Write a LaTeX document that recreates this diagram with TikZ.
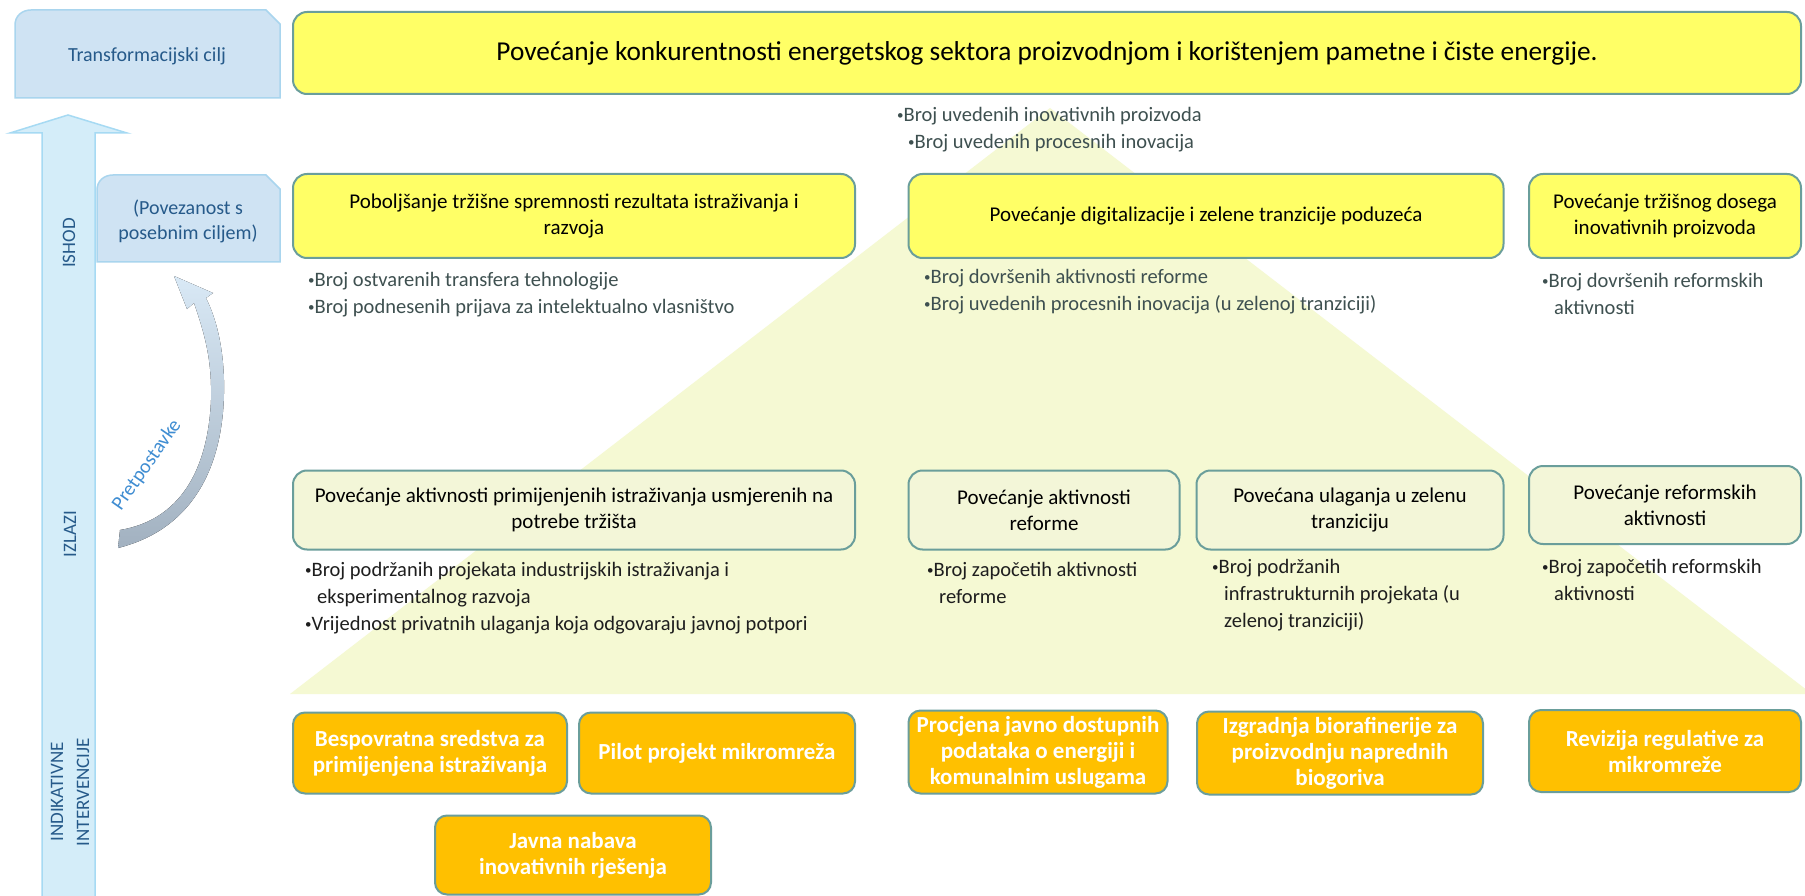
\documentclass[tikz,border=0pt]{standalone}
\usepackage{fontspec}
\setmainfont{Carlito}
\definecolor{boxline}{HTML}{6A9E9B}
\definecolor{goalyellow}{HTML}{FFFF66}
\definecolor{outpale}{HTML}{F3F6D8}
\definecolor{pyramid}{HTML}{F5F9D3}
\definecolor{actorange}{HTML}{FFC000}
\definecolor{lvlfill}{HTML}{CFE3F3}
\definecolor{lvlline}{HTML}{A9D5EE}
\definecolor{arrfill}{HTML}{D4EDF9}
\definecolor{arrline}{HTML}{A6DAF3}
\definecolor{lvltext}{HTML}{265A8A}
\definecolor{inddark}{HTML}{3E5050}
\definecolor{indblack}{HTML}{1E1E1E}
\definecolor{assume}{HTML}{3F8DD2}
\definecolor{assumetop}{HTML}{D9E9F6}
\definecolor{assumebot}{HTML}{A2B1C0}
\newcommand\bul{\raisebox{.2ex}{\fontsize{13}{13}\selectfont\textbullet}}
\begin{document}
\begin{tikzpicture}[x=1pt, y=-1pt,
    lvlbox/.style={draw=lvlline, line width=1.5pt, fill=lvlfill},
    lvltxt/.style={text=lvltext, font=\fontsize{20}{25}\selectfont, align=center},
    stage/.style={rotate=90, text=lvltext, font=\fontsize{19}{26}\selectfont, align=center},
    goal/.style={draw=boxline, line width=2pt, fill=goalyellow, rounded corners=14pt, align=center, font=\fontsize{21}{26}\selectfont},
    output/.style={goal, fill=outpale},
    action/.style={draw=boxline, line width=2pt, fill=actorange, rounded corners=12pt, align=center, text=white, font=\bfseries\fontsize{23}{26}\selectfont},
    ind/.style={anchor=north west, inner sep=0pt, align=left, text=inddark, font=\fontsize{20.5}{27}\selectfont}]
\fill[white] (0,0) rectangle (1805,896);
\useasboundingbox (0,0) rectangle (1805,896);
\fill[pyramid] (1050,108) -- (1812,694) -- (290,694) -- cycle;

\draw[lvlbox] (15,98) -- (15,25) .. controls (15,16) and (22,10) .. (31,10) -- (266,10) -- (280,24) -- (280,98) -- cycle;
\draw[lvlbox] (97,262) -- (97,190) .. controls (97,181) and (104,175) .. (113,175) -- (266,175) -- (280,189) -- (280,262) -- cycle;
\draw[draw=arrline, line width=1.5pt, fill=arrfill] (42,900) -- (42,133) -- (10,133) -- (68,115) -- (127,133) -- (95,133) -- (95,900);
\fill[top color=assumetop, middle color=assumetop!85!assumebot, bottom color=assumebot]
  (118,548) .. controls (190,530) and (226,470) .. (224,380) .. controls (223,345) and (216,318) .. (206,298)
  -- (213,293) -- (174,276) -- (187,309) -- (194,303)
  .. controls (205,335) and (212,360) .. (211,400) .. controls (208,470) and (180,520) .. (120,530) -- cycle;

\node[lvltxt] (cilj) at (147,56) {Transformacijski cilj};
\node[lvltxt] (veza) at (188,221) {(Povezanost s\\posebnim ciljem)};
\node[stage] (ishod) at (69,243) {ISHOD};
\node[stage] (izlazi) at (70,534) {IZLAZI};
\node[stage] (intervencije) at (70,792) {INDIKATIVNE\\INTERVENCIJE};
\node[rotate=55, text=assume, font=\fontsize{20}{20}\selectfont] (pret) at (147,465) {Pretpostavke};

\node[goal, minimum width=1508pt, minimum height=82pt, font=\fontsize{27.3}{32}\selectfont] (cilj1) at (1047,53)
  {Povećanje konkurentnosti energetskog sektora proizvodnjom i korištenjem pametne i čiste energije.};

\node[goal, minimum width=562pt, minimum height=84pt] (ish1) at (574,216) {Poboljšanje tržišne spremnosti rezultata istraživanja i\\razvoja};
\node[goal, minimum width=595pt, minimum height=84pt] (ish2) at (1206,216) {Povećanje digitalizacije i zelene tranzicije poduzeća};
\node[goal, minimum width=272pt, minimum height=84pt] (ish3) at (1665,216) {Povećanje tržišnog dosega\\inovativnih proizvoda};

\node[output, minimum width=562pt, minimum height=79pt] (izl1) at (574,510) {Povećanje aktivnosti primijenjenih istraživanja usmjerenih na\\potrebe tržišta};
\node[output, minimum width=271pt, minimum height=79pt] (izl2) at (1044,510) {Povećanje aktivnosti\\reforme};
\node[output, minimum width=307pt, minimum height=79pt] (izl3) at (1350,510) {Povećana ulaganja u zelenu\\tranziciju};
\node[output, minimum width=272pt, minimum height=78pt] (izl4) at (1665,505) {Povećanje reformskih\\aktivnosti};

\node[action, minimum width=274pt, minimum height=81pt] (int1) at (430,753) {Bespovratna sredstva za\\primijenjena istraživanja};
\node[action, minimum width=276pt, minimum height=81pt] (int2) at (717,753) {Pilot projekt mikromreža};
\node[action, minimum width=259pt, minimum height=83pt] (int3) at (1038,752) {Procjena javno dostupnih\\podataka o energiji i\\komunalnim uslugama};
\node[action, minimum width=286pt, minimum height=83pt] (int4) at (1340,753) {Izgradnja biorafinerije za\\proizvodnju naprednih\\biogoriva};
\node[action, minimum width=272pt, minimum height=82pt] (int5) at (1665,751) {Revizija regulative za\\mikromreže};
\node[action, minimum width=276pt, minimum height=79pt] (int6) at (573,855) {Javna nabava\\inovativnih rješenja};

\node[ind] (pok0) at (897,107) {\bul Broj uvedenih inovativnih proizvoda\\\hspace*{11pt}\bul Broj uvedenih procesnih inovacija};
\node[ind] (pok1) at (308,272) {\bul Broj ostvarenih transfera tehnologije\\\bul Broj podnesenih prijava za intelektualno vlasništvo};
\node[ind] (pok2) at (924,269) {\bul Broj dovršenih aktivnosti reforme\\\bul Broj uvedenih procesnih inovacija (u zelenoj tranziciji)};
\node[ind] (pok3) at (1542,273) {\bul Broj dovršenih reformskih\\\hspace*{12pt}aktivnosti};
\node[ind, text=indblack] (pok4) at (305,562) {\bul Broj podržanih projekata industrijskih istraživanja i\\\hspace*{12pt}eksperimentalnog razvoja\\\bul Vrijednost privatnih ulaganja koja odgovaraju javnoj potpori};
\node[ind, text=indblack] (pok5) at (927,562) {\bul Broj započetih aktivnosti\\\hspace*{12pt}reforme};
\node[ind, text=indblack] (pok6) at (1212,559) {\bul Broj podržanih\\\hspace*{12pt}infrastrukturnih projekata (u\\\hspace*{12pt}zelenoj tranziciji)};
\node[ind, text=indblack] (pok7) at (1542,559) {\bul Broj započetih reformskih\\\hspace*{12pt}aktivnosti};
\end{tikzpicture}
\end{document}
